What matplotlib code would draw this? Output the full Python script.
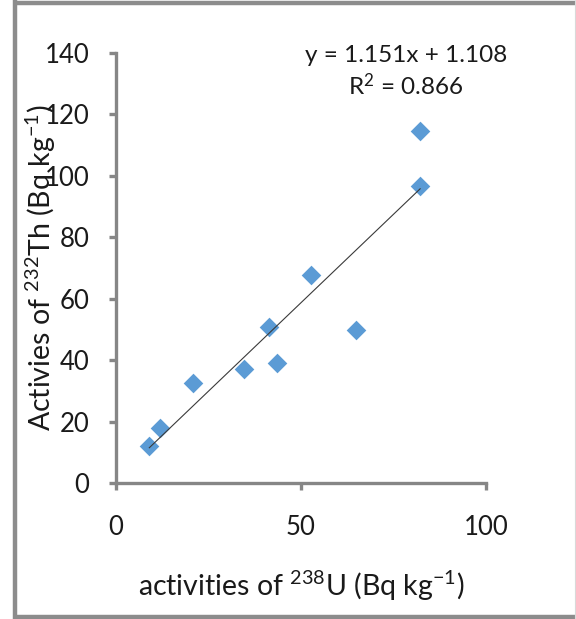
import matplotlib
matplotlib.use("Agg")
import matplotlib.pyplot as plt
from matplotlib.lines import Line2D
import numpy as np

# Data
u238 = [9.0, 11.9, 20.7, 34.6, 41.3, 43.6, 52.6, 64.9, 82.2, 82.2]
th232 = [12.1, 17.9, 32.5, 37.1, 50.8, 39.0, 67.8, 49.9, 96.5, 114.4]
slope = 1.151
intercept = 1.108
r_squared = 0.866
x_ticks = [0, 50, 100]
y_ticks = [0, 20, 40, 60, 80, 100, 120, 140]

plt.rcParams['font.family'] = ['Lato', 'DejaVu Sans']

W, H = 576, 619
fig = plt.figure(figsize=(W / 100, H / 100), dpi=100)

# outer frame (thick grey on left/top/bottom, faint line on right)
fc = '#8c8c8c'
def fline(x0, y0, x1, y1, col, lw):
    fig.add_artist(Line2D([x0 / W, x1 / W], [1 - y0 / H, 1 - y1 / H], transform=fig.transFigure,
                          color=col, linewidth=lw, solid_capstyle='butt'))
fline(14.5, 0, 14.5, 619, fc, 3.2)
fline(13, 3, 576, 3, fc, 3.2)
fline(13, 616.5, 576, 616.5, fc, 3.2)
fline(575.3, 0, 575.3, 619, '#d9d9d9', 0.8)

ax = fig.add_axes([116 / W, 1 - 483 / H, 370 / W, (483 - 52.7) / H])

spine_col = '#868686'
ax.scatter(u238, th232, marker='D', s=100, color='#5B9BD5', zorder=3, linewidths=0)
xs = np.array([min(u238), max(u238)])
ax.plot(xs, slope * xs + intercept, color='#3a3a3a', linewidth=0.8, zorder=4)

ax.set_xlim(0, 100)
ax.set_ylim(0, 140)
ax.set_xticks(x_ticks)
ax.set_yticks(y_ticks)
ax.set_xticklabels([str(t) for t in x_ticks])
ax.set_yticklabels([str(t) for t in y_ticks])

for s in ['top', 'right']:
    ax.spines[s].set_visible(False)
for s in ['left', 'bottom']:
    ax.spines[s].set_color(spine_col)
    ax.spines[s].set_linewidth(2.4)
ax.tick_params(axis='both', direction='out', length=5, width=2.4, color=spine_col,
               labelsize=18.5, labelcolor='#1a1a1a')
ax.tick_params(axis='y', pad=14)
ax.tick_params(axis='x', pad=18)

ax.set_xlabel('activities of $\\mathregular{^{238}}$U (Bq kg$\\mathregular{^{-1}}$)',
              fontsize=20.5, color='#1a1a1a')
ax.xaxis.set_label_coords(0.5, -0.2)
ax.set_ylabel('Activies of $\\mathregular{^{232}}$Th (Bq kg$\\mathregular{^{-1}}$)',
              fontsize=20.5, color='#1a1a1a')
ax.yaxis.set_label_coords((58 - 116) / 370, 0.5)

ax.text(406 / W, 1 - 55 / H, f'y = {slope:.3f}x + {intercept:.3f}', transform=fig.transFigure,
        ha='center', va='center', fontsize=17.5, color='#1a1a1a')
ax.text(406 / W, 1 - 86 / H, f'R$\\mathregular{{^2}}$ = {r_squared:.3f}', transform=fig.transFigure,
        ha='center', va='center', fontsize=17.5, color='#1a1a1a')

fig.savefig('out.png', dpi=100)
